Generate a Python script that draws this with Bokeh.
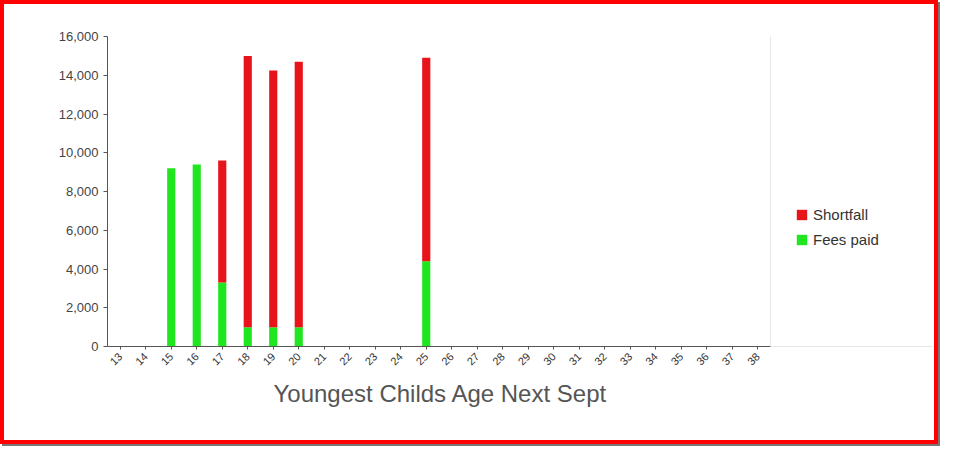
from bokeh.plotting import figure
from bokeh.models import (ColumnDataSource, Range1d, NumeralTickFormatter, Legend,
                          LegendItem, FixedTicker, Span, Title)
from bokeh.embed import file_html
from bokeh.resources import INLINE
import math

ages = [str(a) for a in range(13, 39)]
fees_paid = [0, 0, 9200, 9400, 3300, 1000, 1000, 1000, 0, 0, 0, 0, 4400, 0,
             0, 0, 0, 0, 0, 0, 0, 0, 0, 0, 0, 0]
shortfall = [0, 0, 0, 0, 6300, 14000, 13250, 13700, 0, 0, 0, 0, 10500, 0,
             0, 0, 0, 0, 0, 0, 0, 0, 0, 0, 0, 0]

n = len(ages)
pos = list(range(1, n + 1))
src = ColumnDataSource(dict(x=pos, fees=fees_paid, short=shortfall))

FRAME_W = 825
CAT_W = 663
x_lo = 0.5
x_hi = x_lo + n * FRAME_W / CAT_W
cat_end = n + 0.5

p = figure(x_range=Range1d(x_lo, x_hi), y_range=Range1d(0, 16000),
           output_backend="svg", toolbar_location=None,
           width=938, height=444,
           min_border_left=103, min_border_top=32, min_border_right=10,
           min_border_bottom=102)

rs = p.vbar_stack(["fees", "short"], x="x", width=0.32, source=src,
                  color=["#1fe61f", "#e8141b"], line_color=None)

legend = Legend(items=[LegendItem(label="Shortfall", renderers=[rs[1]]),
                       LegendItem(label="Fees paid", renderers=[rs[0]])],
                location=(688, 98), label_text_font="Liberation Sans",
                label_text_font_size="15px", label_text_color="#333333",
                glyph_width=13, glyph_height=13, label_height=14,
                spacing=8, border_line_color=None, background_fill_alpha=0,
                padding=0, margin=0)
p.add_layout(legend)

p.yaxis.formatter = NumeralTickFormatter(format="0,0")
p.yaxis.major_label_text_font = "Liberation Sans"
p.yaxis.major_label_text_font_size = "13px"
p.yaxis.major_label_text_color = "#444444"
p.yaxis.axis_line_color = "#555555"
p.yaxis.major_tick_line_color = "#555555"
p.yaxis.major_tick_in = 0
p.yaxis.major_tick_out = 4
p.yaxis.minor_tick_line_color = None

p.xaxis.ticker = FixedTicker(ticks=pos)
p.xaxis.major_label_overrides = {k: lab for k, lab in zip(pos, ages)}
p.xaxis.bounds = (x_lo, cat_end)
p.xaxis.minor_tick_line_color = None
p.xaxis.major_label_orientation = math.pi / 4
p.xaxis.major_label_text_font = "Liberation Sans"
p.xaxis.major_label_text_font_size = "11px"
p.xaxis.major_label_text_color = "#333333"
p.xaxis.axis_line_color = "#555555"
p.xaxis.major_tick_line_color = "#555555"
p.xaxis.major_tick_in = 0
p.xaxis.major_tick_out = 3

title = Title(text="Youngest Childs Age Next Sept", align="left", offset=166,
              text_font="Liberation Sans", text_font_size="24px",
              text_font_style="normal", text_color="#555555", standoff=12)
p.add_layout(title, "below")

p.xgrid.grid_line_color = None
p.ygrid.grid_line_color = "#e6e6e6"
p.ygrid.bounds = (x_lo, cat_end)
p.outline_line_color = None
p.add_layout(Span(location=cat_end, dimension="height",
                  line_color="#e6e6e6", line_width=1))

p.styles = {
    "border": "4px solid #ff0000",
    "box-shadow": "2px 2px 0 0 #777777",
}

open("out.html", "w").write(file_html(p, INLINE))
